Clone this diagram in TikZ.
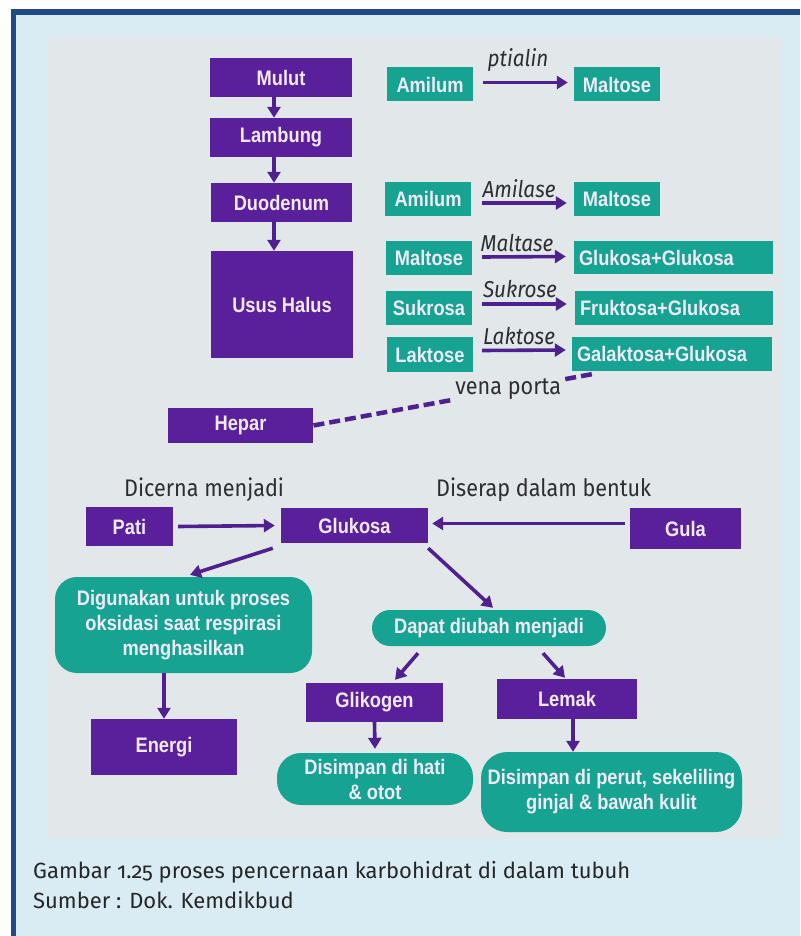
\documentclass[tikz,border=0pt]{standalone}
\usepackage{fontspec}
\setmainfont{Liberation Sans}[FakeStretch=0.87]
\newfontfamily\labfont{Fira Sans}[FakeStretch=0.9,Numbers=OldStyle]
\newfontfamily\capfont{Fira Sans}[Numbers=OldStyle]
\usetikzlibrary{arrows.meta}
\definecolor{purp}{RGB}{90,32,155}
\definecolor{tealc}{RGB}{22,163,145}
\definecolor{boxtxt}{RGB}{240,234,248}
\definecolor{panel}{RGB}{226,232,234}
\definecolor{outer}{RGB}{217,236,243}
\definecolor{framec}{RGB}{32,75,135}
\definecolor{arrc}{RGB}{80,32,145}
\definecolor{labc}{RGB}{45,45,50}
\begin{document}
\begin{tikzpicture}[x=1pt,y=-1pt,
 boxbase/.style={inner sep=0pt, align=center, text=boxtxt, font=\bfseries\fontsize{21}{25}\selectfont},
 pbox/.style={boxbase, fill=purp},
 tbox/.style={boxbase, fill=tealc},
 rbox/.style={boxbase, fill=tealc, rounded corners=#1},
 lbox/.style={boxbase, fill=tealc, inner xsep=5pt, text width=#1, align=left},
 arr/.style={draw=arrc, line width=3.6pt, -{Triangle[length=11pt,width=13pt]}},
 enz/.style={font=\labfont\itshape\fontsize{23}{26}\selectfont, text=labc, inner sep=0pt, anchor=base},
 labtxt/.style={font=\labfont\fontsize{24}{28}\selectfont, text=labc, inner sep=0pt, anchor=base west},
 captxt/.style={font=\capfont\fontsize{22}{26}\selectfont, text=black!85, inner sep=0pt, anchor=base west},
 dashline/.style={draw=arrc, line width=4.5pt, dash pattern=on 11pt off 5pt}
]
\useasboundingbox (0,0) rectangle (800,936);
\fill[white] (0,0) rectangle (800,936);
\fill[framec] (11,9) rectangle (800,936);
\fill[outer] (16,15) rectangle (800,936);
\fill[panel] (48,38) rectangle (782,838);

% organs
\node[pbox, minimum width=142pt, minimum height=39pt] (mulut) at (281,77.5) {Mulut};
\node[pbox, minimum width=142pt, minimum height=39pt] (lambung) at (281,137.5) {Lambung};
\node[pbox, minimum width=141pt, minimum height=39pt] (duo) at (281.5,202.5) {Duodenum};
\node[pbox, minimum width=142pt, minimum height=107pt] (usus) at (282,304.5) {Usus Halus};
\coordinate (ax) at (274,0);
\draw[arr] (mulut.south -| ax) -- (lambung.north -| ax);
\draw[arr] (lambung.south -| ax) -- (duo.north -| ax);
\draw[arr] (duo.south -| ax) -- (usus.north -| ax);

% reactions
\node[tbox, minimum width=86pt, minimum height=34pt] (am1) at (430,84.5) {Amilum};
\node[tbox, minimum width=86pt, minimum height=34pt] (ma1) at (617,84.5) {Maltose};
\draw[arr] ([xshift=10pt,yshift=2pt]am1.east) -- ([xshift=-6pt,yshift=2pt]ma1.west);
\node[enz] (e1) at (518,67) {ptialin};

\node[tbox, minimum width=86pt, minimum height=34pt] (am2) at (428,199) {Amilum};
\node[tbox, minimum width=86pt, minimum height=34pt] (ma2) at (617,199) {Maltose};
\draw[arr] ([xshift=11pt,yshift=-4pt]am2.east) -- ([xshift=-7pt,yshift=-4pt]ma2.west);
\node[enz] (e2) at (519,197) {Amilase};

\node[tbox, minimum width=86pt, minimum height=34pt] (ma3) at (429,258) {Maltose};
\node[lbox=189pt, minimum height=33pt] (gg) at (673.5,257.5) {Glukosa+Glukosa};
\draw[arr] ([xshift=10pt,yshift=1pt]ma3.east) -- ([xshift=-8pt,yshift=1pt]gg.west);
\node[enz] (e3) at (517,251) {Maltase};

\node[tbox, minimum width=86pt, minimum height=34pt] (suk) at (429,308) {Sukrosa};
\node[lbox=188pt, minimum height=34pt] (fg) at (674,308) {Fruktosa+Glukosa};
\draw[arr] ([xshift=10pt,yshift=4pt]suk.east) -- ([xshift=-8pt,yshift=4pt]fg.west);
\node[enz] (e4) at (520,297) {Sukrose};

\node[tbox, minimum width=86pt, minimum height=35pt] (lak) at (430,354.5) {Laktose};
\node[lbox=190pt, minimum height=34pt] (gal) at (672,354) {Galaktosa+Glukosa};
\draw[arr] ([xshift=9pt,yshift=4pt]lak.east) -- ([xshift=-6pt,yshift=4pt]gal.west);
\node[enz] (e5) at (519,344) {Laktose};

% hepar
\node[pbox, minimum width=145pt, minimum height=35pt] (hepar) at (240.5,425.5) {Hepar};
\draw[dashline] ([xshift=20pt,yshift=-3pt]gal.south west) -- node[pos=0.3, fill=panel, inner sep=2pt, font=\labfont\fontsize{24}{28}\selectfont, text=labc] {vena porta} (hepar.east);

% lower part
\node[labtxt] (t1) at (124,496) {Dicerna menjadi};
\node[labtxt] (t2) at (436,496) {Diserap dalam bentuk};
\node[pbox, minimum width=87pt, minimum height=39pt] (pati) at (129.5,526.5) {Pati};
\node[pbox, minimum width=147pt, minimum height=35pt] (gluk) at (354.5,525.5) {Glukosa};
\node[pbox, minimum width=111pt, minimum height=41pt] (gula) at (685.5,528.5) {Gula};
\draw[arr] ([xshift=5pt]pati.east) -- ([xshift=-6pt]gluk.west);
\draw[arr] ([xshift=-5pt,yshift=5pt]gula.west) -- ([xshift=4pt,yshift=2pt]gluk.east);

\node[rbox=22pt, minimum width=257pt, minimum height=96pt] (dig) at (183.5,625) {Digunakan untuk proses\\oksidasi saat respirasi\\menghasilkan};
\draw[arr] ([xshift=-8pt,yshift=-5pt]gluk.south west) -- ([xshift=6.5pt,yshift=2pt]dig.north);
\node[pbox, minimum width=146pt, minimum height=56pt] (energi) at (164,747) {Energi};
\draw[arr] ([xshift=-19.5pt]dig.south) -- (energi.north);

\node[rbox=18pt, minimum width=234pt, minimum height=36pt] (dapat) at (489,628) {Dapat diubah menjadi};
\draw[arr] ([yshift=-5pt]gluk.south east) -- ([xshift=4pt,yshift=2pt]dapat.north);
\node[pbox, minimum width=137pt, minimum height=39pt] (glik) at (374.5,702.5) {Glikogen};
\node[pbox, minimum width=140pt, minimum height=40pt] (lemak) at (567,699) {Lemak};
\draw[arr] ([xshift=-71pt,yshift=-7pt]dapat.south) -- ([xshift=20.5pt,yshift=3pt]glik.north);
\draw[arr] ([xshift=54pt,yshift=-7pt]dapat.south) -- ([xshift=-2pt,yshift=1pt]lemak.north);

\node[rbox=24pt, minimum width=196pt, minimum height=52pt] (hati) at (375,779) {Disimpan di hati\\\& otot};
\node[rbox=26pt, minimum width=261pt, minimum height=80pt] (perut) at (611.5,792) {Disimpan di perut, sekeliling\\ginjal \& bawah kulit};
\draw[arr] (glik.south) -- ([yshift=4pt]hati.north);
\draw[arr] ([xshift=6pt]lemak.south) -- ([xshift=-38.5pt]perut.north);

% caption
\node[captxt] (c1) at (33,878) {Gambar 1.25 proses pencernaan karbohidrat di dalam tubuh};
\node[captxt] (c2) at (33,908) {Sumber : Dok. Kemdikbud};
\end{tikzpicture}
\end{document}
